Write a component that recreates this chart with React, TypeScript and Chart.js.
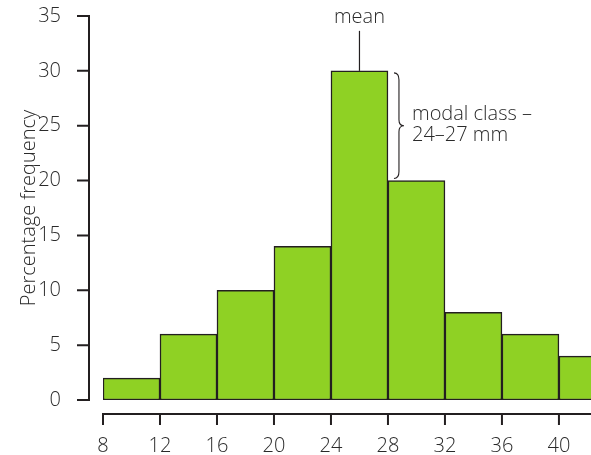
import React, { useEffect, useRef } from "react";
import { Chart, registerables } from "chart.js";

Chart.register(...registerables);

// ---- data ----
const binMidpoints = [10, 14, 18, 22, 26, 30, 34, 38, 42];
const percentages = [2, 6, 10, 14, 30, 20, 8, 6, 4];
const xTickValues = [8, 12, 16, 20, 24, 28, 32, 36, 40];
const yTickValues = [0, 5, 10, 15, 20, 25, 30, 35];
const meanValue = 26;
const modalTop = 30;
const modalNextTop = 20;
const modalRightEdge = 28;
const yTitle = "Percentage frequency";
const meanLabel = "mean";
const modalLabelLines = ["modal class –", "24–27 mm"];

const FONT = "'Open Sans', 'Noto Sans', sans-serif";
const FS = 20;
const FW = "300";
const TEXT = "#2a2a2a";
const INK = "#231f20";
const GREEN = "#8fd124";

const annotPlugin = {
  id: "annot",
  afterDraw(chart: any) {
    const { ctx, chartArea } = chart;
    const x = chart.scales.x;
    const y = chart.scales.y;
    ctx.save();
    ctx.strokeStyle = INK;
    ctx.lineWidth = 2;
    ctx.lineCap = "butt";
    // y axis (offset left)
    const ax = chartArea.left - 14;
    ctx.beginPath();
    ctx.moveTo(ax, y.getPixelForValue(35) - 1);
    ctx.lineTo(ax, y.getPixelForValue(0) + 1);
    for (const v of yTickValues) {
      const py = y.getPixelForValue(v);
      ctx.moveTo(ax - 12, py);
      ctx.lineTo(ax, py);
    }
    ctx.stroke();
    // x axis (offset below)
    const ay = chartArea.bottom + 14;
    ctx.beginPath();
    ctx.moveTo(x.getPixelForValue(8) - 1, ay);
    ctx.lineTo(chartArea.right + 2, ay);
    for (const v of xTickValues) {
      const px = x.getPixelForValue(v);
      ctx.moveTo(px, ay);
      ctx.lineTo(px, ay + 11);
    }
    ctx.stroke();

    // mean marker
    const mx = x.getPixelForValue(meanValue);
    const topY = y.getPixelForValue(modalTop);
    ctx.lineWidth = 1.2;
    ctx.beginPath();
    ctx.moveTo(mx, topY);
    ctx.lineTo(mx, topY - 40);
    ctx.stroke();
    ctx.fillStyle = TEXT;
    ctx.font = `${FW} ${FS}px ${FONT}`;
    ctx.textAlign = "center";
    ctx.textBaseline = "alphabetic";
    ctx.fillText(meanLabel, mx, topY - 48);

    // brace
    const ex = x.getPixelForValue(modalRightEdge);
    const x0 = ex + 6;
    const x1 = ex + 11;
    const x2 = ex + 16;
    const top = topY + 2;
    const bottom = y.getPixelForValue(modalNextTop) - 2;
    const mid = (top + bottom) / 2;
    ctx.lineWidth = 1.1;
    ctx.beginPath();
    ctx.moveTo(x0, top);
    ctx.quadraticCurveTo(x1, top, x1, top + 7);
    ctx.lineTo(x1, mid - 6);
    ctx.quadraticCurveTo(x1, mid, x2, mid);
    ctx.quadraticCurveTo(x1, mid, x1, mid + 6);
    ctx.lineTo(x1, bottom - 7);
    ctx.quadraticCurveTo(x1, bottom, x0, bottom);
    ctx.stroke();
    ctx.textAlign = "left";
    ctx.fillText(modalLabelLines[0], ex + 24, mid - 6);
    ctx.fillText(modalLabelLines[1], ex + 24, mid + 15);
    ctx.restore();
  },
};

function zeroPad(scale: any) {
  scale.paddingTop = 0;
  scale.paddingBottom = 0;
  scale.paddingLeft = 0;
  scale.paddingRight = 0;
}

export default function App() {
  const ref = useRef<HTMLCanvasElement | null>(null);
  useEffect(() => {
    document.body.style.margin = "0";
    const canvas = ref.current!;
    const chart = new Chart(canvas, {
      type: "bar",
      data: {
        datasets: [
          {
            data: binMidpoints.map((m, i) => ({ x: m, y: percentages[i] })),
            backgroundColor: GREEN,
            borderColor: INK,
            borderWidth: 1.5,
            borderSkipped: false,
            barPercentage: 1,
            categoryPercentage: 1,
          },
        ],
      },
      options: {
        responsive: false,
        animation: false,
        devicePixelRatio: 1,
        layout: { padding: { top: 16, right: 0, bottom: 0, left: 0 } },
        plugins: { legend: { display: false }, tooltip: { enabled: false } },
        scales: {
          x: {
            type: "linear",
            offset: false,
            min: 8,
            max: 42.25,
            grid: { display: false, offset: false },
            border: { display: false },
            ticks: {
              stepSize: 4,
              includeBounds: false,
              padding: 26,
              color: TEXT,
              font: { family: FONT, size: FS, weight: FW },
              maxRotation: 0,
            },
            afterFit(scale: any) {
              scale.height = 55;
              zeroPad(scale);
            },
          },
          y: {
            min: 0,
            max: 35,
            grid: { display: false },
            border: { display: false },
            ticks: {
              stepSize: 5,
              padding: 34,
              color: TEXT,
              font: { family: FONT, size: FS, weight: FW },
            },
            title: {
              display: true,
              text: yTitle,
              color: TEXT,
              font: { family: FONT, size: FS, weight: FW, lineHeight: 1.2 },
              padding: { top: 17, bottom: 0 },
            },
            afterFit(scale: any) {
              scale.width = 103;
              zeroPad(scale);
            },
          },
        },
      },
      plugins: [annotPlugin],
    } as any);
    return () => chart.destroy();
  }, []);
  return (
    <div style={{ position: "absolute", left: 0, top: 0, width: 591, height: 455 }}>
      <canvas ref={ref} width={591} height={455} />
    </div>
  );
}
